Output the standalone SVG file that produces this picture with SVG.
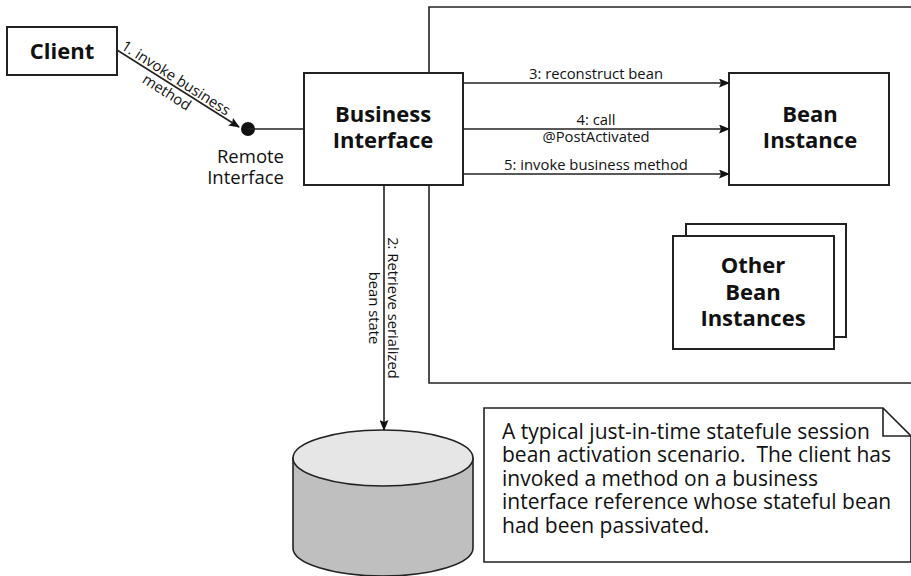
<svg xmlns="http://www.w3.org/2000/svg" width="911" height="576" viewBox="0 0 911 576">
<style>
.box{fill:#fff;stroke:#222;stroke-width:2}
.ln{fill:none;stroke:#222;stroke-width:1.6}
.title{font-family:"Open Sans","Liberation Sans",sans-serif;font-weight:bold;font-size:22px;fill:#111;text-anchor:middle}
.lbl{font-family:"Open Sans","Liberation Sans",sans-serif;font-size:14.8px;fill:#111;text-anchor:middle}
.ri{font-family:"Open Sans","Liberation Sans",sans-serif;font-size:18.5px;fill:#111;text-anchor:end}
.note{font-family:"Open Sans","Liberation Sans",sans-serif;font-size:21px;fill:#111;white-space:pre}
</style>
<defs>
<marker id="arr" markerWidth="11" markerHeight="9" refX="10" refY="4.5" orient="auto" markerUnits="userSpaceOnUse">
<path d="M0,0 L11,4.5 L0,9 L2,4.5 z" fill="#111"/>
</marker>
</defs>

<g id="container">
<path class="ln" d="M915,7 L429,7 L429,383 L915,383"/>
</g>

<g id="client">
<rect class="box" x="7" y="27" width="110" height="48"/>
<text class="title" x="62" y="59">Client</text>
</g>

<g id="remote-interface">
<circle cx="248" cy="129" r="7" fill="#111"/>
<text class="ri" x="284" y="163">Remote</text>
<text class="ri" x="284" y="184">Interface</text>
</g>

<g id="business-interface">
<rect class="box" x="304" y="73" width="159" height="112"/>
<text class="title" x="383" y="122">Business</text>
<text class="title" x="383" y="148">Interface</text>
</g>

<g id="bean-instance">
<rect class="box" x="729" y="73" width="160" height="112"/>
<text class="title" x="810" y="122">Bean</text>
<text class="title" x="810" y="148">Instance</text>
</g>

<g id="other-bean-instances">
<rect class="box" x="686" y="224" width="160" height="113"/>
<rect class="box" x="673" y="236" width="161" height="113"/>
<text class="title" x="753" y="273">Other</text>
<text class="title" x="753" y="300">Bean</text>
<text class="title" x="753" y="326">Instances</text>
</g>

<g id="database">
<path d="M293,458 L293,548 A90,28 0 0 0 473,548 L473,458 z" fill="#bfbfbf" stroke="#222" stroke-width="1.6"/>
<ellipse cx="383" cy="458" rx="90" ry="28" fill="#e6e6e6" stroke="#222" stroke-width="1.6"/>
</g>

<g id="note">
<path d="M484,408 L883,408 L911,436 L911,562 L484,562 z" fill="#fff" stroke="#222" stroke-width="1.6"/>
<path d="M883,408 L883,436 L911,436" fill="none" stroke="#222" stroke-width="1.6"/>
<text class="note" x="502" y="439">A typical just-in-time statefule session</text>
<text class="note" x="502" y="462" xml:space="preserve">bean activation scenario.  The client has</text>
<text class="note" x="502" y="486">invoked a method on a business</text>
<text class="note" x="502" y="509">interface reference whose stateful bean</text>
<text class="note" x="502" y="533">had been passivated.</text>
</g>

<g id="connectors">
<line class="ln" x1="117" y1="50" x2="239" y2="127" marker-end="url(#arr)"/>
<line class="ln" x1="248" y1="129" x2="304" y2="129"/>
<line class="ln" x1="463" y1="83" x2="729" y2="83" marker-end="url(#arr)"/>
<line class="ln" x1="463" y1="129" x2="729" y2="129" marker-end="url(#arr)"/>
<line class="ln" x1="463" y1="174" x2="729" y2="174" marker-end="url(#arr)"/>
<line class="ln" x1="384" y1="185" x2="384" y2="430" marker-end="url(#arr)"/>
<g transform="translate(177.5,88.5) rotate(32.5)">
<text class="lbl" x="-7" y="-3">1. invoke business</text>
<text class="lbl" x="-7" y="14">method</text>
</g>
<text class="lbl" x="596" y="79">3: reconstruct bean</text>
<text class="lbl" x="596" y="125">4: call</text>
<text class="lbl" x="596" y="142">@PostActivated</text>
<text class="lbl" x="596" y="170">5: invoke business method</text>
<g transform="translate(384,308) rotate(90)">
<text class="lbl" x="0" y="-4">2: Retrieve serialized</text>
<text class="lbl" x="0" y="15">bean state</text>
</g>
</g>
</svg>
